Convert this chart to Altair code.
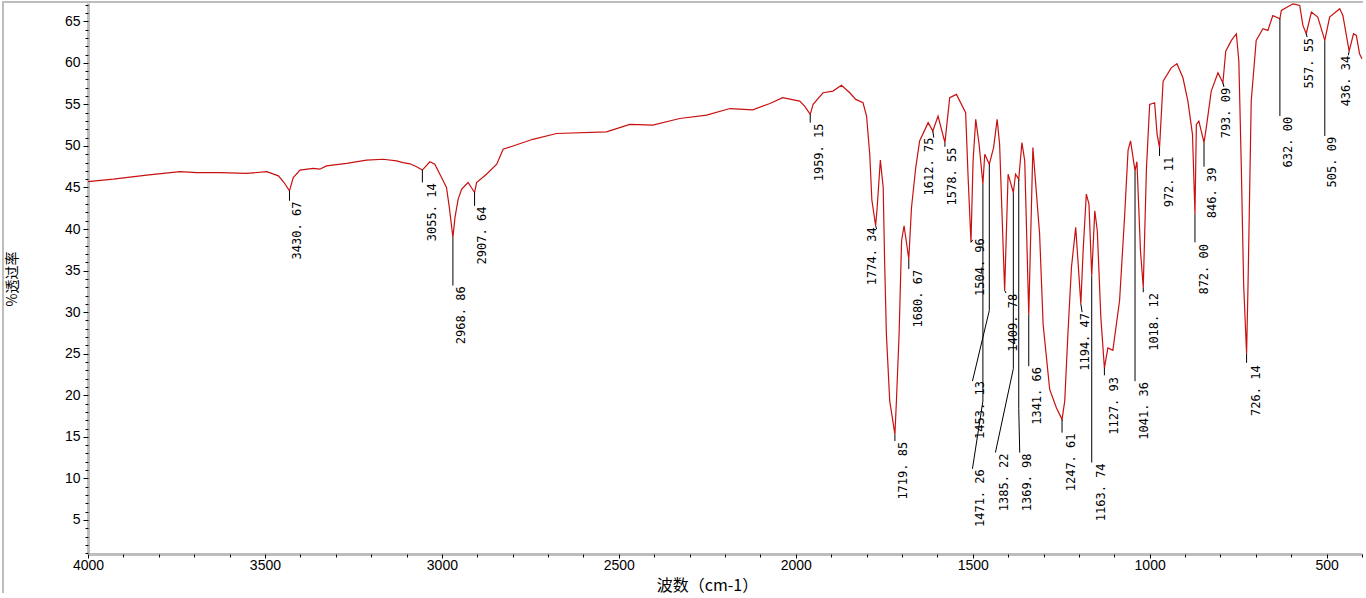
import altair as alt
import pandas as pd

# ---- spectrum (wavenumber cm-1, % transmittance) ----
WN = [4000, 3928.5, 3834, 3740, 3693, 3627, 3552, 3495, 3462, 3446, 3430.67, 3420, 3401, 3364, 3345, 3326,
      3269, 3213, 3166, 3128, 3110, 3090, 3071.5, 3055.14, 3034, 3020, 3001, 2987, 2979, 2968.86, 2963,
      2954, 2944, 2926, 2907.64, 2902, 2874, 2845, 2827, 2799, 2743, 2676, 2535, 2469, 2404, 2328, 2252,
      2186, 2121.5, 2073, 2037, 1989, 1975, 1959.15, 1951, 1923, 1895, 1871, 1847.5, 1830.5, 1810, 1800,
      1791, 1785, 1774.34, 1770, 1761, 1753, 1749, 1744, 1734.5, 1719.85, 1715.6, 1708, 1701, 1694,
      1680.67, 1673, 1661, 1650, 1626, 1612.75, 1598, 1578.55, 1565, 1546, 1520, 1513, 1504.96, 1499,
      1491.5, 1482, 1471.26, 1466, 1453.13, 1441, 1431, 1424, 1409.78, 1400, 1385.22, 1379, 1369.98, 1361,
      1353, 1341.66, 1330, 1311, 1301, 1282.5, 1263.6, 1247.61, 1240, 1231, 1221, 1209, 1194.47, 1188,
      1179, 1171.5, 1163.74, 1155, 1148, 1138, 1127.93, 1118, 1104, 1085, 1071, 1061, 1054, 1041.36, 1036,
      1026, 1018.12, 1009, 1000, 986, 979, 972.11, 962, 939, 923, 906, 892, 879, 872.00, 868, 861, 846.39,
      840, 826, 807, 793.09, 785, 769, 755, 748, 741, 734.5, 726.14, 722, 713, 699, 680, 666, 652, 632.00,
      628, 595, 576, 567, 557.55, 543, 525, 505.09, 491.5, 463, 454, 436.34, 424, 416, 407, 400]
TR = [45.7, 46.0, 46.5, 46.9, 46.8, 46.8, 46.7, 46.9, 46.4, 45.6, 44.6, 46.2, 47.1, 47.3, 47.2, 47.6,
      47.9, 48.3, 48.4, 48.2, 48.0, 47.85, 47.5, 47.1, 48.1, 47.8, 46.2, 45.0, 42.6, 39.0, 41.4,
      43.6, 44.8, 45.6, 44.4, 45.6, 46.6, 47.8, 49.6, 50.0, 50.8, 51.5, 51.7, 52.6, 52.5, 53.3, 53.7,
      54.5, 54.35, 55.1, 55.8, 55.4, 54.8, 53.8, 55.0, 56.4, 56.6, 57.3, 56.4, 55.6, 55.2, 53.6,
      49.0, 43.5, 40.4, 42.6, 48.3, 45.0, 36.2, 27.4, 19.3, 15.3, 19.3, 27.4, 38.6, 40.4,
      36.4, 42.6, 47.4, 50.6, 52.8, 51.8, 53.6, 50.4, 55.8, 56.2, 54.0, 46.2, 38.4, 48.2,
      53.2, 50.2, 45.4, 49.0, 47.8, 49.8, 53.2, 50.2, 32.6, 46.6, 44.4, 46.6, 46.0, 50.4,
      48.2, 29.7, 49.8, 39.4, 28.5, 20.7, 18.5, 17.1, 19.3, 27.4, 35.4, 40.2, 31.0, 37.4,
      44.2, 43.0, 34.4, 42.2, 39.8, 29.4, 23.3, 25.7, 25.4, 31.4, 41.4, 49.5, 50.6, 47.0, 48.1,
      37.4, 33.0, 47.4, 55.0, 55.2, 51.4, 49.8, 57.8, 59.4, 59.9, 58.2, 55.4, 51.4, 41.8, 52.6, 53.0, 50.4,
      52.2, 56.6, 58.8, 57.6, 61.4, 62.7, 63.5, 60.2, 47.4, 33.4, 25.0, 33.4, 55.4, 62.7, 64.1, 63.9, 65.7, 65.3,
      66.3, 67.1, 66.9, 64.5, 63.5, 66.1, 65.5, 62.7, 65.5, 66.5, 65.7, 61.4, 63.5, 63.3, 61.1, 60.5]

# ---- peak labels ----
LABEL_TEXT = ["3430. 67", "3055. 14", "2968. 86", "2907. 64", "1959. 15", "1774. 34", "1719. 85", "1680. 67",
              "1612. 75", "1578. 55", "1504. 96", "1471. 26", "1453. 13", "1409. 78", "1385. 22", "1369. 98",
              "1341. 66", "1247. 61", "1194. 47", "1163. 74", "1127. 93", "1041. 36", "1018. 12", "972. 11",
              "872. 00", "846. 39", "793. 09", "726. 14", "632. 00", "557. 55", "505. 09", "436. 34"]
PEAK_WN = [3430.67, 3055.14, 2968.86, 2907.64, 1959.15, 1774.34, 1719.85, 1680.67,
           1612.75, 1578.55, 1504.96, 1471.26, 1453.13, 1409.78, 1385.22, 1369.98,
           1341.66, 1247.61, 1194.47, 1163.74, 1127.93, 1041.36, 1018.12, 972.11,
           872.00, 846.39, 793.09, 726.14, 632.00, 557.55, 505.09, 436.34]
PEAK_T = [44.6, 47.1, 39.0, 44.4, 53.8, 40.4, 15.3, 36.4,
          51.8, 50.4, 38.4, 45.4, 47.8, 32.6, 44.4, 46.0,
          29.7, 17.1, 31.0, 34.4, 23.3, 47.0, 33.0, 49.8,
          41.8, 50.4, 57.6, 25.0, 65.3, 63.5, 62.7, 61.4]
BEND_WN = [3430.67, 3055.14, 2968.86, 2907.64, 1959.15, 1771.5, 1719.85, 1680.67,
           1610.0, 1578.55, 1500.0, 1471.26, 1453.13, 1406.0, 1385.22, 1369.98,
           1341.66, 1247.61, 1191.0, 1163.74, 1127.93, 1041.36, 1018.12, 972.11,
           872.00, 846.39, 790.0, 726.14, 632.00, 555.0, 505.09, 438.5]
BEND_T = [43.4, 45.6, 33.2, 42.8, 52.8, 40.0, 14.5, 35.2,
          51.0, 49.9, 38.7, 19.3, 30.2, 32.3, 23.2, 18.4,
          23.5, 15.5, 30.0, 11.9, 22.4, 21.7, 32.4, 48.8,
          38.4, 47.5, 57.1, 23.9, 53.6, 63.1, 51.2, 60.9]
END_WN = [3430.67, 3055.14, 2968.86, 2907.64, 1959.15, 1771.5, 1719.85, 1680.67,
          1610.0, 1578.55, 1500.0, 1500.8, 1500.8, 1406.0, 1435.9, 1367.2,
          1341.66, 1247.61, 1191.0, 1163.74, 1127.93, 1041.36, 1018.12, 972.11,
          872.00, 846.39, 790.0, 726.14, 632.00, 555.0, 505.09, 438.5]
END_T = [43.4, 45.6, 33.2, 42.8, 52.8, 40.0, 14.5, 35.2,
         51.0, 49.9, 38.7, 11.15, 21.7, 32.3, 13.1, 13.1,
         23.5, 15.5, 30.0, 11.9, 22.4, 21.7, 32.4, 48.8,
         38.4, 47.5, 57.1, 23.9, 53.6, 63.1, 51.2, 60.9]
TEXT_WN = [3409.6, 3029.1, 2946.3, 2887.0, 1935.0, 1785.3, 1696.9, 1654.5,
           1623.4, 1558.0, 1478.2, 1478.2, 1478.2, 1387.0, 1412.4, 1346.1,
           1317.8, 1223.2, 1183.6, 1138.4, 1101.7, 1016.9, 988.7, 946.3,
           847.5, 823.4, 785.3, 700.6, 608.8, 550.8, 485.9, 446.3]
TEXT_T = [43.3, 45.5, 33.1, 42.7, 52.7, 40.2, 14.4, 35.1,
          51.0, 49.8, 38.9, 11.1, 21.7, 32.2, 13.0, 13.0,
          23.4, 15.4, 29.9, 11.8, 22.2, 21.6, 32.3, 48.7,
          38.2, 47.4, 57.0, 23.6, 53.5, 63.0, 51.1, 60.85]

X_MAJOR = [4000, 3500, 3000, 2500, 2000, 1500, 1000, 500]
X_MINOR = list(range(4000, 399, -100))
Y_MAJOR = [5, 10, 15, 20, 25, 30, 35, 40, 45, 50, 55, 60, 65]
Y_MINOR = list(range(1, 68))

spec = pd.DataFrame({"wn": WN, "T": TR})

rows = []
for i, t in enumerate(LABEL_TEXT):
    pts = [(PEAK_WN[i], PEAK_T[i]), (BEND_WN[i], BEND_T[i]), (END_WN[i], END_T[i])]
    for k, (w, v) in enumerate(pts):
        rows.append({"id": i, "seq": k, "wn": w, "T": v})
leaders = pd.DataFrame(rows)
labels = pd.DataFrame({"text": LABEL_TEXT, "wn": TEXT_WN, "T": TEXT_T})

xs = alt.Scale(domain=[4000, 400], nice=False, zero=False)
ys = alt.Scale(domain=[0.9, 67.2], nice=False, zero=False)

GRAY = "#bdbdbd"
LFONT = "Liberation Sans"

x_major = alt.Axis(values=X_MAJOR, format="d", labelFlush=False, grid=False, orient="bottom",
                   domainColor=GRAY, domainWidth=3, tickColor="black", tickSize=4, tickWidth=1,
                   labelFont=LFONT, labelFontSize=14, labelColor="black", labelPadding=0,
                   title="波数（cm-1）", titleFont="Noto Sans CJK SC", titleFontSize=16,
                   titleFontWeight="normal", titleColor="black", titlePadding=5, titleX=619)
y_major = alt.Axis(values=Y_MAJOR, grid=False, orient="left", labelFlush=False,
                   domainColor=GRAY, domainWidth=3, tickColor="black", tickSize=5, tickWidth=1,
                   labelFont=LFONT, labelFontSize=14, labelColor="black", labelPadding=3,
                   title="%透过率", titleFont="Noto Sans CJK SC", titleFontSize=14,
                   titleFontWeight="normal", titleColor="black", titleX=-76, titleBaseline="middle")
x_minor = alt.Axis(values=X_MINOR, grid=False, orient="bottom", labels=False, domain=False,
                   tickColor="black", tickSize=3, tickWidth=1, title="")
y_minor = alt.Axis(values=Y_MINOR, grid=False, orient="left", labels=False, domain=False,
                   tickColor="black", tickSize=3, tickWidth=1, title="")

line = alt.Chart(spec).mark_line(color="#c81010", strokeWidth=1.2).encode(
    x=alt.X("wn:Q", scale=xs, axis=x_major),
    y=alt.Y("T:Q", scale=ys, axis=y_major),
)
minor = alt.Chart(spec).mark_point(opacity=0).encode(
    x=alt.X("wn:Q", scale=xs, axis=x_minor),
    y=alt.Y("T:Q", scale=ys, axis=y_minor),
)
lead = alt.Chart(leaders).mark_line(color="black", strokeWidth=1).encode(
    x=alt.X("wn:Q", scale=xs, axis=None),
    y=alt.Y("T:Q", scale=ys, axis=None),
    detail="id:N",
    order="seq:Q",
)
text = alt.Chart(labels).mark_text(angle=270, align="right", baseline="middle",
                                   font="DejaVu Sans Mono", fontSize=12, color="black").encode(
    x=alt.X("wn:Q", scale=xs, axis=None),
    y=alt.Y("T:Q", scale=ys, axis=None),
    text="text:N",
)
one = pd.DataFrame({"a": [0]})
top_border = alt.Chart(one).mark_rule(color=GRAY, strokeWidth=2).encode(
    x=alt.value(-86), x2=alt.value(1275), y=alt.value(-1))
left_border = alt.Chart(one).mark_rule(color=GRAY, strokeWidth=2).encode(
    x=alt.value(-85), y=alt.value(-2), y2=alt.value(590))

chart = alt.layer(line, minor, lead, text, top_border, left_border).resolve_axis(
    x="independent", y="independent"
).properties(
    width=1274, height=551,
    autosize=alt.AutoSizeParams(type="none"),
    padding={"left": 88, "top": 3, "right": 4, "bottom": 44},
    background="white",
).configure_view(strokeWidth=0)

chart.save("out.html", embed_options={"renderer": "svg", "actions": False})
